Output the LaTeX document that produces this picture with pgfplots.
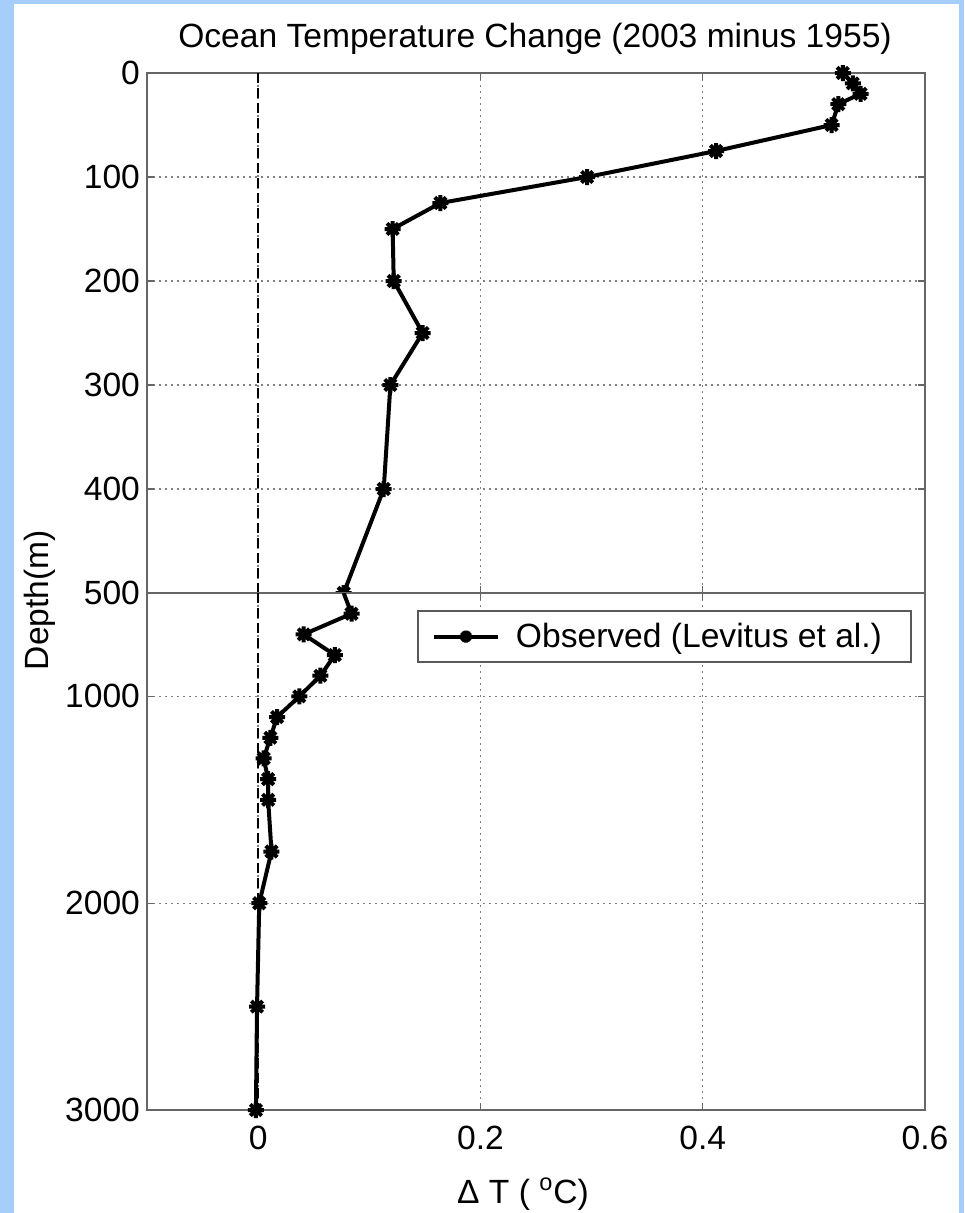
\documentclass[border=0pt]{standalone}
\usepackage{pgfplots}
\pgfplotsset{compat=1.18}
\usepackage{fontspec}
\setmainfont{Liberation Sans}
\definecolor{bgblue}{RGB}{166,206,250}
\pgfdeclareplotmark{mstar}{%
 \pgfpathmoveto{\pgfqpoint{0pt}{\pgfplotmarksize}}\pgfpathlineto{\pgfqpoint{0pt}{-\pgfplotmarksize}}%
 \pgfpathmoveto{\pgfqpoint{\pgfplotmarksize}{0pt}}\pgfpathlineto{\pgfqpoint{-\pgfplotmarksize}{0pt}}%
 \pgfpathmoveto{\pgfqpoint{0.707\pgfplotmarksize}{0.707\pgfplotmarksize}}\pgfpathlineto{\pgfqpoint{-0.707\pgfplotmarksize}{-0.707\pgfplotmarksize}}%
 \pgfpathmoveto{\pgfqpoint{0.707\pgfplotmarksize}{-0.707\pgfplotmarksize}}\pgfpathlineto{\pgfqpoint{-0.707\pgfplotmarksize}{0.707\pgfplotmarksize}}%
 \pgfusepathqstroke}
\newcommand{\fs}{\fontsize{16.8}{19}\selectfont}
\pgfplotsset{
  common/.style={
    scale only axis, width=389pt,
    xmin=-0.1, xmax=0.6, xtick={0,0.2,0.4,0.6},
    y dir=reverse,
    tick align=inside, major tick length=3.5pt,
    grid=major, grid style={dash pattern=on 1pt off 2pt, line width=0.7pt, black!50},
    axis line style={black!60, line width=0.8pt},
    tick style={black!60, line width=0.6pt},
    ticklabel style={font=\fs},
    /pgf/number format/assume math mode=true,
    /pgf/number format/1000 sep={},
    xticklabel style={yshift=-4.4pt},
  },
  obs/.style={black, line width=2pt, mark=mstar, mark size=4pt,
    mark options={solid, line width=2pt}},
}
\begin{document}
\begin{tikzpicture}
\fill[bgblue] (0,0) rectangle (482pt,-606.5pt);
\fill[white] (7pt,-2pt) rectangle (479.5pt,-606.5pt);

\begin{axis}[common, at={(73.5pt,-36.5pt)}, anchor=north west, height=260pt,
  ymin=0, ymax=500, ytick={0,100,200,300,400,500}, xticklabel=\empty]
\addplot[black, line width=0.7pt, dash pattern=on 5pt off 2.5pt] coordinates {(0,0) (0,500)};
\addplot[obs] coordinates {
 (0.526,0) (0.535,10) (0.542,20) (0.522,30) (0.516,50) (0.412,75) (0.296,100)
 (0.164,125) (0.121,150) (0.122,200) (0.148,250) (0.119,300) (0.113,400) (0.077,500)};
\end{axis}

\begin{axis}[common, at={(73.5pt,-296.5pt)}, anchor=north west, height=258.5pt,
  ymin=500, ymax=3000, ytick={1000,2000,3000},
  axis background/.style={fill=white},
  legend style={at={(0.983,0.967)}, anchor=north east, draw=black!65, line width=0.8pt,
    font=\fs, inner xsep=0pt, inner ysep=2pt, nodes={inner xsep=0pt, inner ysep=4pt}},
  legend cell align=left,
  legend image code/.code={%
    \path[draw=none, fill=none] (0pt,0pt) -- (49pt,0pt);
    \draw[#1, mark indices={2}, mark size=3pt] plot coordinates {(8pt,0pt) (24pt,0pt) (40pt,0pt)};}]
\addplot[black, line width=0.7pt, dash pattern=on 5pt off 2.5pt, forget plot] coordinates {(0,500) (0,3000)};
\addplot[obs, mark indices={2,...,15}] coordinates {
 (0.077,500) (0.084,600) (0.041,700) (0.069,800) (0.056,900) (0.037,1000)
 (0.017,1100) (0.011,1200) (0.005,1300) (0.009,1400) (0.009,1500) (0.012,1750)
 (0.001,2000) (-0.001,2500) (-0.002,3000)};
\addlegendentry{Observed (Levitus et al.)\hspace*{14.5pt}}
\end{axis}

\node[anchor=base, font=\fs] at (267.5pt,-24pt) {Ocean Temperature Change (2003 minus 1955)};
\node[anchor=base, rotate=90, font=\fs] at (24pt,-300pt) {Depth(m)};
\node[anchor=base, font=\fs] at (261.5pt,-601.5pt) {Δ T ( \textsuperscript{o}C)};
\pgfresetboundingbox
\useasboundingbox (0,0) rectangle (482pt,-606.5pt);
\end{tikzpicture}
\end{document}
